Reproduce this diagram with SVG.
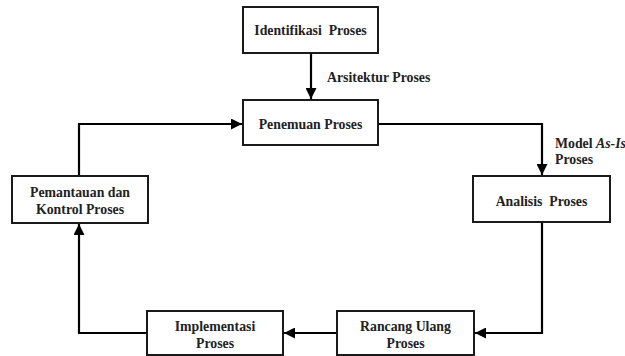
<svg xmlns="http://www.w3.org/2000/svg" width="625" height="356" viewBox="0 0 625 356">
<style>
.box{fill:#fff;stroke:#1a1a1a;stroke-width:2}
.ln{fill:none;stroke:#000;stroke-width:2.2}
text{font-family:"Liberation Serif","Times New Roman",serif;font-weight:bold;font-size:13.8px;fill:#222}
.c{text-anchor:middle}
</style>
<defs>
<marker id="ah" viewBox="0 0 10 10" refX="10" refY="5" markerWidth="11" markerHeight="11" markerUnits="userSpaceOnUse" orient="auto">
<path d="M0,0 L10,5 L0,10 z" fill="#000"/>
</marker>
</defs>
<g id="connectors">
<path class="ln" d="M311,53 V99" marker-end="url(#ah)"/>
<path class="ln" d="M378,124 H542 V175" marker-end="url(#ah)"/>
<path class="ln" d="M542,222 V333 H475" marker-end="url(#ah)"/>
<path class="ln" d="M337,333 H284" marker-end="url(#ah)"/>
<path class="ln" d="M147,333 H79 V224" marker-end="url(#ah)"/>
<path class="ln" d="M79,176 V124 H242" marker-end="url(#ah)"/>
<text x="327" y="82">Arsitektur Proses</text>
<text x="555" y="148">Model <tspan font-style="italic">As-Is</tspan></text>
<text x="555" y="164">Proses</text>
</g>
<g id="identifikasi">
<rect class="box" x="243" y="7" width="135" height="46"/>
<text class="c" x="310.5" y="35">Identifikasi&#160; Proses</text>
</g>
<g id="penemuan">
<rect class="box" x="243" y="100" width="135" height="45"/>
<text class="c" x="310.5" y="129">Penemuan Proses</text>
</g>
<g id="analisis">
<rect class="box" x="473" y="176" width="137" height="46"/>
<text class="c" x="541.5" y="206">Analisis&#160; Proses</text>
</g>
<g id="rancang">
<rect class="box" x="337" y="311" width="137" height="44"/>
<text class="c" x="405.5" y="331">Rancang Ulang</text>
<text class="c" x="405.5" y="348">Proses</text>
</g>
<g id="implementasi">
<rect class="box" x="147" y="311" width="136" height="44"/>
<text class="c" x="215" y="331">Implementasi</text>
<text class="c" x="215" y="348">Proses</text>
</g>
<g id="pemantauan">
<rect class="box" x="12" y="176" width="136" height="47"/>
<text class="c" x="80" y="197">Pemantauan dan</text>
<text class="c" x="80" y="214">Kontrol Proses</text>
</g>
</svg>
